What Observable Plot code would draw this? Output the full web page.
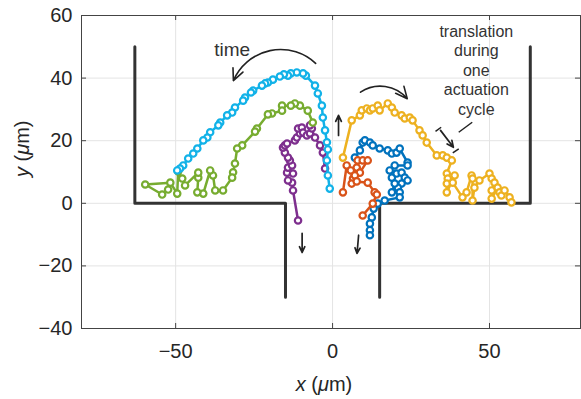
<!DOCTYPE html>
<html><head><meta charset="utf-8">
<script src="https://cdn.jsdelivr.net/npm/d3@7"></script>
<script src="https://cdn.jsdelivr.net/npm/@observablehq/plot@0.6"></script>
<style>
body{margin:0;background:#fff;}
svg{display:block;font-family:"Liberation Sans",Arial,Helvetica,sans-serif;}
</style>
</head><body><div id="chart"></div>
<script>
const xTicks = [-50, 0, 50];
const yTicks = [-40, -20, 0, 20, 40, 60];

const leftWall = [[-63, 50], [-63, 0], [-15, 0], [-15, -30]];
const rightWall = [[15, -30], [15, 0], [63, 0], [63, 50]];

const blue = [[7.1,14.6],[8.7,16.9],[9.6,19.4],[10.3,20.1],[11.9,19.4],[12.8,18.5],[15.0,17.5],[17.6,16.9],[18.9,15.9],[20.4,16.2],[21.4,17.5],[23.9,13.0],[23.9,12.1],[19.8,12.1],[18.2,10.5],[18.9,8.2],[20.4,9.5],[22.0,9.8],[23.0,8.2],[23.9,7.3],[22.0,6.3],[20.8,5.0],[19.8,6.3],[18.9,3.5],[21.4,3.5],[21.4,1.9],[16.6,0.9],[14.4,-0.1],[13.1,-1.7],[12.5,-4.5],[11.9,-6.5],[11.9,-8.6],[11.9,-10.2]];
const orange = [[3.3,3.5],[4.5,12.1],[5.8,10.5],[6.5,7.9],[6.1,6.3],[7.7,11.4],[8.0,13.7],[9.6,13.7],[11.2,13.7],[8.7,9.8],[7.1,8.9],[7.7,7.0],[11.2,6.6],[13.4,3.5],[14.1,2.8],[12.8,-0.1],[9.6,-3.9]];
const yellow = [[3.3,14.6],[6.1,26.5],[8.7,28.1],[9.3,29.7],[10.9,30.3],[11.9,29.7],[12.8,30.3],[14.4,31.2],[15.0,29.7],[17.6,31.9],[18.9,30.6],[19.8,29.0],[22.0,28.1],[23.0,27.1],[24.6,27.4],[25.5,26.5],[27.7,23.3],[28.7,21.7],[30.0,19.4],[33.2,15.3],[35.1,15.3],[36.4,14.6],[38.0,13.7],[36.4,9.5],[36.7,7.9],[36.4,6.3],[36.4,3.5],[38.9,8.9],[38.3,6.6],[41.4,1.9],[42.7,3.5],[44.3,8.9],[44.6,7.9],[44.6,0.9],[45.2,5.0],[46.8,7.3],[50.0,9.5],[50.7,7.9],[51.6,6.6],[50.7,4.1],[50.7,1.5],[52.6,5.0],[53.2,3.5],[53.8,2.5],[54.8,4.1],[56.4,1.9],[57.0,0.3]];
const purple = [[-11.0,-5.5],[-12.6,4.1],[-12.9,6.6],[-14.2,7.3],[-14.5,9.8],[-12.6,9.5],[-14.2,11.4],[-12.9,12.1],[-13.6,13.7],[-14.2,14.6],[-15.2,16.2],[-15.8,17.8],[-15.2,18.5],[-14.5,19.1],[-12.0,20.1],[-11.4,21.0],[-10.4,22.3],[-11.0,23.9],[-9.8,24.2],[-9.4,22.6],[-8.2,21.7],[-7.2,22.3],[-6.6,23.9],[-7.2,24.9],[-5.6,21.0],[-4.0,18.5],[-3.1,16.2],[-2.4,11.1]];
const green = [[-6.3,25.8],[-7.9,29.6],[-10.4,31.2],[-12.0,31.9],[-13.3,31.2],[-16.1,31.2],[-16.1,29.6],[-19.3,28.7],[-20.6,28.4],[-24.1,23.9],[-24.7,22.9],[-28.8,18.5],[-30.4,17.5],[-31.1,12.7],[-31.7,9.9],[-32.0,8.2],[-34.9,4.1],[-37.4,4.1],[-38.1,8.9],[-39.0,10.5],[-41.2,3.1],[-43.1,3.5],[-42.8,8.2],[-42.8,9.8],[-47.0,5.7],[-47.9,7.9],[-49.2,10.2],[-49.5,3.1],[-51.7,6.6],[-59.7,6.0],[-54.3,2.8],[-52.4,4.4]];
const cyan = [[-0.9,4.7],[-1.5,8.9],[-1.8,13.7],[-1.5,17.2],[-1.8,19.5],[-2.4,23.3],[-3.1,27.4],[-3.4,31.2],[-4.7,35.1],[-5.6,37.6],[-8.5,40.8],[-9.4,41.5],[-11.4,41.8],[-13.3,41.5],[-14.2,40.8],[-15.5,41.2],[-16.8,40.5],[-19.0,39.5],[-20.6,38.6],[-21.5,38.3],[-22.5,37.6],[-25.3,36.0],[-26.0,35.4],[-27.9,33.8],[-28.5,32.8],[-31.1,30.6],[-32.0,29.0],[-33.6,28.1],[-35.8,25.8],[-36.4,24.9],[-39.0,22.7],[-39.9,21.0],[-41.2,20.1],[-43.1,17.5],[-44.4,15.9],[-46.0,14.3],[-47.6,12.1],[-48.6,11.1],[-49.5,10.5]];

const seriesNames = ["blue", "orange", "yellow", "purple", "green", "cyan"];
const seriesColors = ["#0072bd", "#d95319", "#edb120", "#7e2f8e", "#77ac30", "#12b2e8"];
const seriesData = [blue, orange, yellow, purple, green, cyan];

// annotations (data units)
const timeArrow = [{x1: -5.4, y1: 44.7, x2: -31.6, y2: 39.2}];
const yellowArrow = [{x1: 8.9, y1: 35.5, x2: 23.8, y2: 33.4}];
const straightArrows = [
  {x1: 1.9, y1: 21.7, x2: 1.9, y2: 28.1},
  {x1: -9.7, y1: -9.6, x2: -9.7, y2: -15.7},
  {x1: 8.3, y1: -10.2, x2: 7.8, y2: -16.0},
  {x1: 34.4, y1: 23.3, x2: 38.5, y2: 17.9}
];
const annoLinks = [
  {x1: 32.8, y1: 23.0, x2: 34.6, y2: 24.3},
  {x1: 38.3, y1: 16.1, x2: 40.2, y2: 17.4},
  {x1: 40.2, y1: 22.7, x2: 44.5, y2: 25.9}
];
const labels = [
  {x: -32.0, y: 49.5, text: "time", size: 19},
  {x: 45.8, y: 42.7, text: "translation\nduring\none\nactuation\ncycle", size: 16}
];

const seriesMarks = [];
seriesData.forEach((arr, i) => {
  const rows = arr.map(([x, y]) => ({x, y, s: seriesNames[i]}));
  seriesMarks.push(Plot.line(rows, {x: "x", y: "y", stroke: seriesColors[i], strokeWidth: 2.5}));
  seriesMarks.push(Plot.dot(rows, {x: "x", y: "y", r: 3.2, fill: "white", stroke: seriesColors[i], strokeWidth: 2.2}));
});

const dark = "#262626";
const chart = Plot.plot({
  width: 581, height: 399,
  marginLeft: 81, marginRight: 1, marginTop: 15, marginBottom: 71,
  x: {domain: [-80, 79]},
  y: {domain: [-40, 60]},
  style: {fontFamily: '"Liberation Sans",Arial,Helvetica,sans-serif', fontSize: "20px", color: dark, background: "white"},
  marks: [
    Plot.gridX(xTicks, {stroke: "#e4e4e4", strokeOpacity: 1}),
    Plot.gridY(yTicks.slice(1, -1), {stroke: "#e4e4e4", strokeOpacity: 1}),
    Plot.axisX(xTicks, {tickSize: 0, tickPadding: 15, fontSize: 20, label: null, tickFormat: d => d3.format("")(d).replace("-", "\u2013")}),
    Plot.axisY(yTicks, {tickSize: 0, tickPadding: 9, fontSize: 20, label: null, tickFormat: d => d3.format("")(d).replace("-", "\u2013")}),
    Plot.ruleX(xTicks, {y1: -40, y2: -38.4, stroke: "#444"}),
    Plot.ruleX(xTicks, {y1: 60, y2: 58.4, stroke: "#444"}),
    Plot.ruleY(yTicks, {x1: -80, x2: -78.4, stroke: "#444"}),
    Plot.ruleY(yTicks, {x1: 79, x2: 77.4, stroke: "#444"}),
    Plot.frame({stroke: "#444", strokeWidth: 1}),
    Plot.line(leftWall, {x: d => d[0], y: d => d[1], stroke: "#333", strokeWidth: 3}),
    Plot.line(rightWall, {x: d => d[0], y: d => d[1], stroke: "#333", strokeWidth: 3}),
    ...seriesMarks,
    Plot.arrow(timeArrow, {x1: "x1", y1: "y1", x2: "x2", y2: "y2", bend: -55, stroke: "#222", strokeWidth: 1.6, headLength: 12, headAngle: 50}),
    Plot.arrow(yellowArrow, {x1: "x1", y1: "y1", x2: "x2", y2: "y2", bend: 42, stroke: "#222", strokeWidth: 1.6, headLength: 12, headAngle: 50}),
    Plot.arrow(straightArrows, {x1: "x1", y1: "y1", x2: "x2", y2: "y2", stroke: "#222", strokeWidth: 1.7, headLength: 11, headAngle: 50}),
    Plot.link(annoLinks, {x1: "x1", y1: "y1", x2: "x2", y2: "y2", stroke: "#222", strokeWidth: 1.5}),
    Plot.text(labels, {x: "x", y: "y", text: "text", fontSize: d => d.size, lineHeight: 1.22, fill: "#333", lineAnchor: "middle"}),
    Plot.text(["x (\u03bcm)"], {frameAnchor: "bottom", text: d => d, dy: 56, dx: -7, fontSize: 20, fill: dark, lineAnchor: "middle"}),
    Plot.text(["y (\u03bcm)"], {frameAnchor: "left", text: d => d, dx: -59, dy: 5, rotate: -90, fontSize: 20, fill: dark, lineAnchor: "middle"})
  ]
});
document.getElementById("chart").appendChild(chart);
d3.select(chart).selectAll("text").each(function() {
  const t = this.textContent;
  if (t === "x (\u03bcm)" || t === "y (\u03bcm)") {
    const v = t[0];
    d3.select(this).html(`<tspan font-style="italic">${v}</tspan> (<tspan font-style="italic">\u03bc</tspan>m)`);
  }
});
</script></body></html>
